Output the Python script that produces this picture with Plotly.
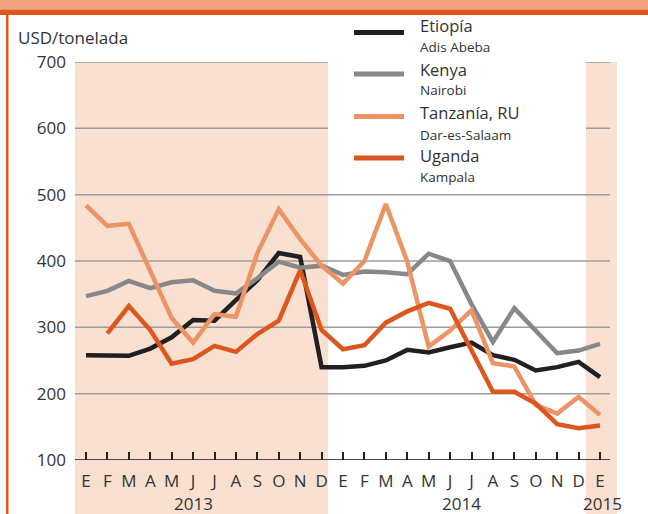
import plotly.graph_objects as go

# ---------------- data ----------------
month_labels = ["E", "F", "M", "A", "M", "J", "J", "A", "S", "O", "N", "D",
                "E", "F", "M", "A", "M", "J", "J", "A", "S", "O", "N", "D", "E"]
years = ["2013", "2014", "2015"]
year_pos = [5.0, 17.55, 24.1]

series_names = ["Etiopía", "Kenya", "Tanzanía, RU", "Uganda"]
series_cities = ["Adis Abeba", "Nairobi", "Dar-es-Salaam", "Kampala"]

etiopia = [258, 258, 257, 268, 285, 311, 310, 341, 371, 412, 406, 240,
           240, 242, 250, 266, 262, 270, 277, 258, 251, 235, 240, 248, 225]
kenya = [347, 355, 370, 359, 368, 371, 355, 351, 374, 399, 390, 393,
         379, 384, 383, 380, 411, 400, 335, 278, 329, 294, 261, 265, 275]
tanzania = [484, 453, 456, 386, 314, 277, 320, 316, 412, 478, 433, 393,
            366, 400, 486, 399, 271, 295, 326, 246, 241, 183, 170, 195, 168]
uganda = [None, 291, 332, 296, 245, 252, 272, 263, 290, 310, 386, 296,
          267, 273, 307, 324, 337, 328, 266, 203, 203, 185, 154, 148, 152]

yticks = [100, 200, 300, 400, 500, 600, 700]

# ---------------- styles ----------------
colors = ["#231f20", "#87888a", "#ec9466", "#dc561d"]
shade = "#fae0d0"
orange = "#e0561d"
FONT = "Open Sans"

W, H = 648, 514
L, R, T, B = 75, 617, 62, 460  # plot area in pixels


def px(xp):
    return (xp - L) / (R - L)


def py(yp):
    return (B - yp) / (B - T)


x = list(range(len(month_labels)))
xr = [-11 / 21.417, 24 + 17 / 21.417]

fig = go.Figure()
for name, vals, col in zip(series_names, [etiopia, kenya, tanzania, uganda], colors):
    fig.add_trace(go.Scatter(x=x, y=vals, mode="lines", name=name,
                             line=dict(color=col, width=4.5),
                             connectgaps=False, hoverinfo="skip"))

shapes = []
# shaded year bands
shapes.append(dict(type="rect", xref="x", yref="paper", x0=xr[0], x1=11.30,
                   y0=-0.3, y1=1, fillcolor=shade, line=dict(width=0), layer="below"))
shapes.append(dict(type="rect", xref="x", yref="paper", x0=23.34, x1=xr[1],
                   y0=-0.3, y1=1, fillcolor=shade, line=dict(width=0), layer="below"))
# gridlines
for v in yticks[1:]:
    shapes.append(dict(type="line", xref="paper", yref="y", x0=0, x1=px(610),
                       y0=v, y1=v, line=dict(color="#9d9d9d", width=1.5), layer="below"))
# white legend background over 2014 band
shapes.append(dict(type="rect", xref="x", yref="paper", x0=11.30, x1=23.34,
                   y0=py(192), y1=1.05, fillcolor="white", line=dict(width=0), layer="below"))
# x axis line
shapes.append(dict(type="line", xref="paper", yref="y", x0=0, x1=px(610),
                   y0=100, y1=100, line=dict(color="#4a4a4a", width=2), layer="below"))
# frame decorations
shapes.append(dict(type="rect", xref="paper", yref="paper", x0=px(0), x1=px(W),
                   y0=py(9.5), y1=py(0), fillcolor="#eea37c", line=dict(width=0), layer="above"))
shapes.append(dict(type="rect", xref="paper", yref="paper", x0=px(0), x1=px(W),
                   y0=py(15), y1=py(9.5), fillcolor=orange, line=dict(width=0), layer="above"))
shapes.append(dict(type="rect", xref="paper", yref="paper", x0=px(6), x1=px(8.5),
                   y0=py(W), y1=py(12), fillcolor=orange, line=dict(width=0), layer="above"))

annotations = []
# legend (manual, two-line entries)
leg_line_y = [32.5, 74, 116.5, 158]
leg_name_y = [25.5, 70, 112, 155]
leg_city_y = [46.7, 90.5, 134.5, 176.5]
for i in range(4):
    shapes.append(dict(type="line", xref="paper", yref="paper", x0=px(354), x1=px(404),
                       y0=py(leg_line_y[i]), y1=py(leg_line_y[i]),
                       line=dict(color=colors[i], width=5), layer="above"))
    annotations.append(dict(text=series_names[i], xref="paper", yref="paper",
                            x=px(419), y=py(leg_name_y[i]), xanchor="left", yanchor="middle",
                            showarrow=False, borderpad=0,
                            font=dict(size=16.5, color="#333", family=FONT)))
    annotations.append(dict(text=series_cities[i], xref="paper", yref="paper",
                            x=px(419), y=py(leg_city_y[i]), xanchor="left", yanchor="middle",
                            showarrow=False, borderpad=0,
                            font=dict(size=13.5, color="#333", family=FONT)))

# y-axis unit label
annotations.append(dict(text="USD/tonelada", xref="paper", yref="paper",
                        x=px(16), y=py(37), xanchor="left", yanchor="middle",
                        showarrow=False, font=dict(size=17, color="#333", family=FONT)))
# year labels
for yl, xp in zip(years, year_pos):
    annotations.append(dict(text=yl, xref="x", yref="paper", x=xp, y=py(503.5),
                            xanchor="center", yanchor="middle", showarrow=False,
                            borderpad=0, font=dict(size=17, color="#333", family=FONT)))

fig.update_layout(
    width=W, height=H,
    margin=dict(l=L, r=W - R, t=T, b=H - B, pad=0),
    paper_bgcolor="white", plot_bgcolor="rgba(0,0,0,0)",
    showlegend=False,
    font=dict(family=FONT, color="#333"),
    shapes=shapes, annotations=annotations,
    xaxis=dict(range=xr, tickmode="array", tickvals=x, ticktext=month_labels,
               ticks="inside", ticklen=8, tickwidth=2, tickcolor="#222",
               showgrid=False, zeroline=False, showline=False,
               tickfont=dict(size=17, color="#333", family=FONT),
               ticklabelstandoff=9, fixedrange=True),
    yaxis=dict(range=[100, 700], tickmode="array", tickvals=yticks,
               ticks="", showgrid=False, zeroline=False, showline=False,
               tickfont=dict(size=17, color="#333", family=FONT),
               ticklabelstandoff=8, fixedrange=True),
)

fig.write_html("out.html", config={"displayModeBar": False},
               post_script="document.body.style.margin='0';document.body.style.overflow='hidden';")
